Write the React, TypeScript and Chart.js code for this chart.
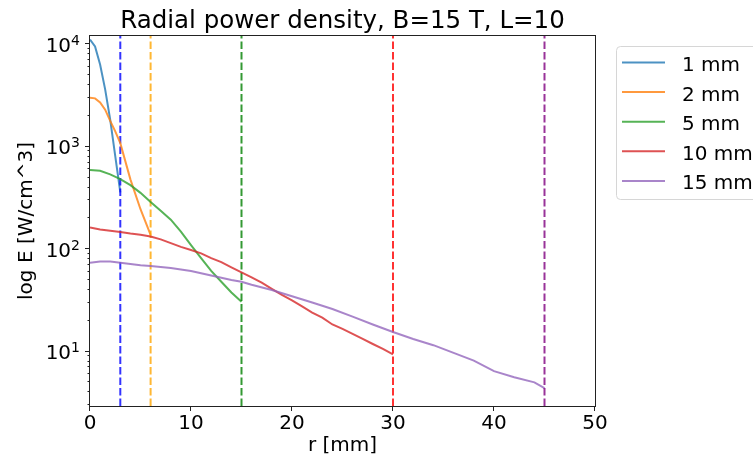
import React, { useEffect, useRef } from "react";
import { Chart, registerables } from "chart.js";

Chart.register(...registerables);

// ---------- data ----------
const seriesLabels = ["1 mm", "2 mm", "5 mm", "10 mm", "15 mm"];
const lineColors = [
  "rgba(31,119,180,0.8)",
  "rgba(255,127,14,0.8)",
  "rgba(44,160,44,0.8)",
  "rgba(214,39,40,0.8)",
  "rgba(148,103,189,0.8)",
];
const boundaryColors = [
  "rgba(0,0,255,0.8)",
  "rgba(255,165,0,0.8)",
  "rgba(0,128,0,0.8)",
  "rgba(255,0,0,0.8)",
  "rgba(128,0,128,0.8)",
];
const boundaries = [3, 6, 15, 30, 45];

const r1 = [0, 0.5, 1, 1.5, 2, 2.5, 3];
const e1 = [10900, 9300, 6200, 3550, 1800, 790, 350];

const r2 = [0, 0.5, 1, 1.5, 2, 2.5, 3, 4, 5, 6];
const e2 = [2950, 2900, 2650, 2250, 1750, 1380, 1060, 470, 240, 135];

const r5 = [0, 1, 2, 3, 4, 5, 6, 7, 8, 9, 10, 11, 12, 13, 14, 15];
const e5 = [580, 570, 525, 473, 412, 347, 282, 232, 190, 145, 107, 80, 60, 47, 37, 30];

const r10 = [0, 1, 2, 3, 4, 5, 6, 7, 8, 9, 10, 11, 12, 13, 14, 15, 16, 17, 18, 19, 20, 21, 22, 23, 24, 25, 26, 27, 28, 29, 30];
const e10 = [159, 152, 148, 144, 139, 135, 130, 122, 112, 103, 96, 89, 80, 73, 65, 58, 52, 46, 40, 35, 31, 27, 23.5, 21, 18, 16.3, 14.6, 13.0, 11.6, 10.4, 9.2];

const r15 = [0, 1, 2, 3, 4, 5, 6, 8, 10, 12, 14, 15, 16, 18, 20, 22, 24, 26, 28, 30, 32, 34, 36, 38, 40, 42, 44, 45];
const e15 = [72, 74, 74, 72, 70, 68, 67, 64, 60, 54, 49, 47, 44, 39, 34, 29.5, 25.5, 21.5, 18, 15.2, 13, 11.3, 9.5, 8, 6.3, 5.5, 4.9, 4.3];

const radii = [r1, r2, r5, r10, r15];
const energies = [e1, e2, e5, e10, e15];

const xTicks = [0, 10, 20, 30, 40, 50];
const yMajorTicks = [10, 100, 1000, 10000];
const yTickBase = "10";
const yTickExponents = ["1", "2", "3", "4"];
const X_MIN = 0;
const X_MAX = 50;
const Y_MIN = 2.88;
const Y_MAX = 11785;

const titleText = "Radial power density, B=15 T, L=10";
const xLabel = "r [mm]";
const yLabel = "log E [W/cm^3]";

const FONT = "DejaVu Sans";

export default function App() {
  const ref = useRef<HTMLCanvasElement | null>(null);

  useEffect(() => {
    document.body.style.margin = "0";
    const canvas = ref.current;
    if (!canvas) return;

    const datasets: any[] = [];
    let seq = 0;
    for (let i = 0; i < seriesLabels.length; i++) {
      datasets.push({
        label: seriesLabels[i],
        data: radii[i].map((r, k) => ({ x: r, y: energies[i][k] })),
        borderColor: lineColors[i],
        backgroundColor: lineColors[i],
        borderWidth: 2,
        pointRadius: 0,
        tension: 0,
        fill: false,
        order: 100 - seq++,
      });
      datasets.push({
        label: "boundary " + seriesLabels[i],
        data: [
          { x: boundaries[i], y: Y_MIN },
          { x: boundaries[i], y: Y_MAX },
        ],
        borderColor: boundaryColors[i],
        borderWidth: 2,
        borderDash: [7.5, 3],
        pointRadius: 0,
        fill: false,
        order: 100 - seq++,
      });
    }

    const decorations = {
      id: "decorations",
      afterDraw(chart: any) {
        const ctx = chart.ctx;
        const { left, right, top, bottom } = chart.chartArea;
        const xs = chart.scales.x;
        const ys = chart.scales.y;
        ctx.save();
        // spines
        ctx.strokeStyle = "#222";
        ctx.lineWidth = 1;
        ctx.strokeRect(left - 0.5, top - 0.5, right - left + 1, bottom - top + 1);
        // x ticks
        ctx.beginPath();
        for (const v of xTicks) {
          const px = Math.round(xs.getPixelForValue(v)) - 0.5;
          ctx.moveTo(px, bottom);
          ctx.lineTo(px, bottom + 5);
        }
        // y ticks (major and minor)
        for (let d = 0; d <= 4; d++) {
          for (let m = 1; m <= 9; m++) {
            const v = m * Math.pow(10, d);
            if (v < Y_MIN || v > Y_MAX) continue;
            const py = Math.round(ys.getPixelForValue(v)) + 0.5;
            const len = m === 1 ? 5 : 2.5;
            ctx.moveTo(left - len, py);
            ctx.lineTo(left, py);
          }
        }
        ctx.stroke();

        // y tick labels with superscript exponents
        ctx.fillStyle = "#000";
        ctx.textBaseline = "alphabetic";
        for (let i = 0; i < yMajorTicks.length; i++) {
          const py = ys.getPixelForValue(yMajorTicks[i]);
          ctx.font = `14px "${FONT}"`;
          const supW = ctx.measureText(yTickExponents[i]).width;
          const supX = left - 10 - supW;
          ctx.textAlign = "left";
          ctx.fillText(yTickExponents[i], supX, py + 1.7);
          ctx.font = `20px "${FONT}"`;
          ctx.textAlign = "right";
          ctx.fillText(yTickBase, supX, py + 8.4);
        }

        // title
        ctx.fillStyle = "#000";
        ctx.font = `24.5px "${FONT}"`;
        ctx.textAlign = "center";
        ctx.textBaseline = "alphabetic";
        ctx.fillText(titleText, (left + right) / 2, 28.3);

        // legend
        const lx = 616.5;
        const ly = 46.5;
        const lw = 200;
        const lh = 153;
        const rad = 4;
        ctx.beginPath();
        ctx.moveTo(lx + rad, ly);
        ctx.lineTo(lx + lw - rad, ly);
        ctx.arcTo(lx + lw, ly, lx + lw, ly + rad, rad);
        ctx.lineTo(lx + lw, ly + lh - rad);
        ctx.arcTo(lx + lw, ly + lh, lx + lw - rad, ly + lh, rad);
        ctx.lineTo(lx + rad, ly + lh);
        ctx.arcTo(lx, ly + lh, lx, ly + lh - rad, rad);
        ctx.lineTo(lx, ly + rad);
        ctx.arcTo(lx, ly, lx + rad, ly, rad);
        ctx.closePath();
        ctx.fillStyle = "rgba(255,255,255,0.8)";
        ctx.fill();
        ctx.strokeStyle = "#d6d6d6";
        ctx.lineWidth = 1;
        ctx.stroke();

        ctx.font = `20px "${FONT}"`;
        ctx.textAlign = "left";
        for (let i = 0; i < seriesLabels.length; i++) {
          const yy = 62.5 + i * 29.6;
          ctx.strokeStyle = lineColors[i];
          ctx.lineWidth = 2;
          ctx.beginPath();
          ctx.moveTo(622, yy);
          ctx.lineTo(665, yy);
          ctx.stroke();
          ctx.fillStyle = "#000";
          ctx.fillText(seriesLabels[i], 682, yy + 8.4);
        }
        ctx.restore();
      },
    };

    const chart = new Chart(canvas, {
      type: "line",
      data: { datasets },
      options: {
        animation: false,
        responsive: false,
        devicePixelRatio: 1,
        events: [],
        layout: { padding: { left: 0, right: 158, top: 36, bottom: 0 } },
        plugins: {
          legend: { display: false },
          title: { display: false },
          tooltip: { enabled: false },
        },
        scales: {
          x: {
            type: "linear",
            min: X_MIN,
            max: X_MAX,
            afterBuildTicks: (s: any) => {
              s.ticks = xTicks.map((v) => ({ value: v }));
            },
            afterFit: (s: any) => {
              s.height = 52;
            },
            grid: { display: false, drawTicks: false },
            border: { display: false },
            ticks: {
              padding: 6,
              color: "#000",
              font: { family: FONT, size: 20 },
              maxRotation: 0,
              callback: (v: any) => String(v),
            },
            title: {
              display: true,
              text: xLabel,
              color: "#000",
              font: { family: FONT, size: 20 },
              padding: { top: 0, bottom: 0 },
            },
          },
          y: {
            type: "logarithmic",
            min: Y_MIN,
            max: Y_MAX,
            afterBuildTicks: (s: any) => {
              s.ticks = yMajorTicks.map((v) => ({ value: v }));
            },
            afterFit: (s: any) => {
              s.width = 90;
            },
            grid: { display: false, drawTicks: false },
            border: { display: false },
            ticks: { display: false },
            title: {
              display: true,
              text: yLabel,
              color: "#000",
              font: { family: FONT, size: 20 },
              padding: { top: 15, bottom: 0 },
            },
          },
        },
      },
      plugins: [decorations],
    } as any);

    return () => chart.destroy();
  }, []);

  return (
    <div style={{ position: "absolute", left: 0, top: 0, width: 753, height: 458 }}>
      <canvas ref={ref} width={753} height={458} />
    </div>
  );
}
